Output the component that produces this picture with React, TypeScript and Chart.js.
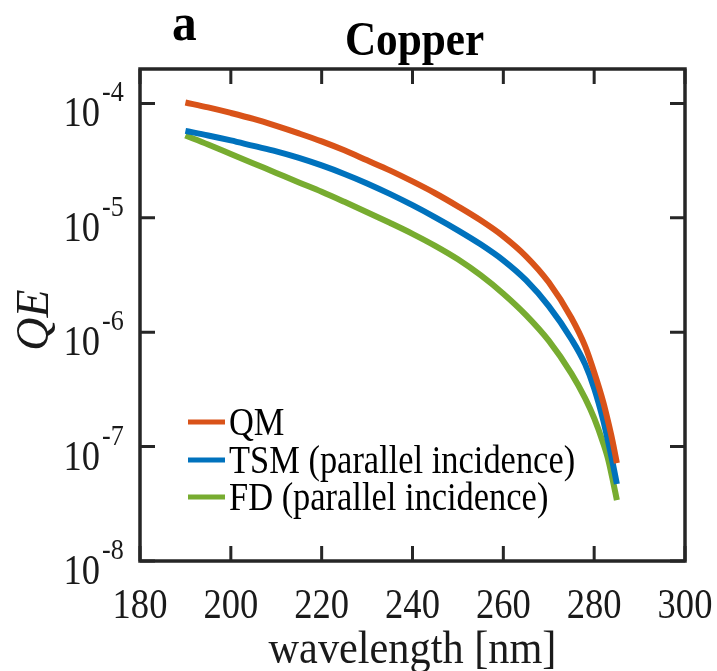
import React, { useEffect, useRef } from "react";
import { Chart, registerables } from "chart.js";

Chart.register(...registerables);

// ---- data ----
const wavelengths = [190, 195, 200, 205, 210, 215, 220, 225, 230, 235, 240, 245, 250, 255, 260, 265, 270, 275, 278, 280, 282, 283, 284, 285];
const qmQE = [1.02e-4, 9.23e-5, 8.26e-5, 7.32e-5, 6.36e-5, 5.47e-5, 4.66e-5, 3.89e-5, 3.18e-5, 2.6e-5, 2.08e-5, 1.64e-5, 1.26e-5, 9.51e-6, 6.89e-6, 4.61e-6, 2.73e-6, 1.33e-6, 7.55e-7, 4.47e-7, 2.45e-7, 1.7e-7, 1.14e-7, 7.18e-8];
const tsmQE = [5.75e-5, 5.25e-5, 4.75e-5, 4.25e-5, 3.81e-5, 3.34e-5, 2.87e-5, 2.42e-5, 2.0e-5, 1.62e-5, 1.29e-5, 1.01e-5, 7.78e-6, 5.87e-6, 4.25e-6, 2.85e-6, 1.69e-6, 8.69e-7, 5.26e-7, 3.24e-7, 1.7e-7, 1.14e-7, 7.47e-8, 4.71e-8];
const fdQE = [5.25e-5, 4.38e-5, 3.62e-5, 2.99e-5, 2.47e-5, 2.04e-5, 1.69e-5, 1.38e-5, 1.12e-5, 9.05e-6, 7.25e-6, 5.69e-6, 4.34e-6, 3.15e-6, 2.17e-6, 1.41e-6, 8.43e-7, 4.34e-7, 2.65e-7, 1.77e-7, 1.07e-7, 7.94e-8, 5.31e-8, 3.41e-8];
const seriesLabels = ["QM", "TSM (parallel incidence)", "FD (parallel incidence)"];
const seriesColors = ["#D95319", "#0072BD", "#77AC30"];
const xTicks = [180, 200, 220, 240, 260, 280, 300];
const yTicks = [1e-4, 1e-5, 1e-6, 1e-7, 1e-8];
const yTickExponents = ["-4", "-5", "-6", "-7", "-8"];
const titleText = "Copper";
const panelLabel = "a";
const xAxisLabel = "wavelength [nm]";
const yAxisLabel = "QE";

const SERIF = '"Liberation Serif", "Times New Roman", serif';
const AXIS_COLOR = "#262626";

function drawText(
  ctx: CanvasRenderingContext2D,
  text: string,
  x: number,
  y: number,
  font: string,
  align: "left" | "center" | "right",
  sx: number
) {
  ctx.save();
  ctx.font = font;
  ctx.textBaseline = "alphabetic";
  ctx.textAlign = "left";
  const w = ctx.measureText(text).width * sx;
  let left = x;
  if (align === "center") left = x - w / 2;
  else if (align === "right") left = x - w;
  ctx.translate(left, y);
  ctx.scale(sx, 1);
  ctx.fillText(text, 0, 0);
  ctx.restore();
}

const axisPlugin = {
  id: "matlabAxes",
  afterDraw(chart: any) {
    const { ctx, chartArea: a, scales } = chart;
    const xs = scales.x;
    const ys = scales.y;
    ctx.save();
    ctx.fillStyle = "#000";
    ctx.strokeStyle = AXIS_COLOR;

    // box
    ctx.lineWidth = 3.5;
    ctx.strokeRect(a.left, a.top, a.right - a.left, a.bottom - a.top);

    // ticks (inward, mirrored)
    const tl = 15;
    ctx.lineWidth = 3;
    ctx.beginPath();
    for (const v of xTicks) {
      const px = xs.getPixelForValue(v);
      ctx.moveTo(px, a.bottom);
      ctx.lineTo(px, a.bottom - tl);
      ctx.moveTo(px, a.top);
      ctx.lineTo(px, a.top + tl);
    }
    for (const v of yTicks) {
      const py = ys.getPixelForValue(v);
      ctx.moveTo(a.left, py);
      ctx.lineTo(a.left + tl, py);
      ctx.moveTo(a.right, py);
      ctx.lineTo(a.right - tl, py);
    }
    ctx.stroke();

    // x tick labels
    ctx.fillStyle = "#1a1a1a";
    for (const v of xTicks) {
      const px = xs.getPixelForValue(v);
      drawText(ctx, String(v), px, a.bottom + 57, `42px ${SERIF}`, "center", 0.87);
    }
    // y tick labels 10^n
    yTicks.forEach((v, i) => {
      const py = ys.getPixelForValue(v);
      drawText(ctx, "10", a.left - 40, py + 23, `43px ${SERIF}`, "right", 0.85);
      drawText(ctx, yTickExponents[i], a.left - 38, py - 2, `29px ${SERIF}`, "left", 0.9);
    });

    // axis titles
    drawText(ctx, xAxisLabel, (a.left + a.right) / 2, 663, `46px ${SERIF}`, "center", 0.92);
    ctx.save();
    ctx.translate(48, 320);
    ctx.rotate(-Math.PI / 2);
    drawText(ctx, yAxisLabel, 0, 0, `italic 46px ${SERIF}`, "center", 1);
    ctx.restore();

    // title and panel label
    ctx.fillStyle = "#000";
    drawText(ctx, titleText, (a.left + a.right) / 2 + 2, 55, `bold 48px ${SERIF}`, "center", 0.9);
    drawText(ctx, panelLabel, 172, 40, `bold 52px ${SERIF}`, "left", 0.95);

    // legend
    const legendY = [422, 460, 497];
    seriesLabels.forEach((lab, i) => {
      ctx.strokeStyle = seriesColors[i];
      ctx.lineWidth = 5;
      ctx.beginPath();
      ctx.moveTo(188, legendY[i]);
      ctx.lineTo(225, legendY[i]);
      ctx.stroke();
      ctx.fillStyle = "#000";
      drawText(ctx, lab, 229, legendY[i] + 12.5, `41px ${SERIF}`, "left", 0.84);
    });
    ctx.restore();
  },
};

export default function App() {
  const ref = useRef<HTMLCanvasElement>(null);
  useEffect(() => {
    if (!ref.current) return;
    const series = [qmQE, tsmQE, fdQE];
    const chart = new Chart(ref.current, {
      type: "line",
      data: {
        datasets: series.map((vals, i) => ({
          label: seriesLabels[i],
          data: wavelengths.map((w, j) => ({ x: w, y: vals[j] })),
          borderColor: seriesColors[i],
          backgroundColor: seriesColors[i],
          borderWidth: 6,
          pointRadius: 0,
          fill: false,
          cubicInterpolationMode: "monotone" as const,
        })),
      },
      options: {
        responsive: false,
        animation: false,
        devicePixelRatio: 1,
        events: [],
        layout: { padding: { left: 140, right: 32, top: 69, bottom: 110 } },
        plugins: {
          legend: { display: false },
          tooltip: { enabled: false },
          title: { display: false },
        },
        scales: {
          x: { type: "linear", min: 180, max: 300, display: false },
          y: { type: "logarithmic", min: 1e-8, max: 2e-4, display: false },
        },
      },
      plugins: [axisPlugin],
    });
    return () => chart.destroy();
  }, []);
  return (
    <div style={{ position: "fixed", left: 0, top: 0, width: 717, height: 671, background: "#fff" }}>
      <canvas ref={ref} width={717} height={671} style={{ display: "block" }} />
    </div>
  );
}
